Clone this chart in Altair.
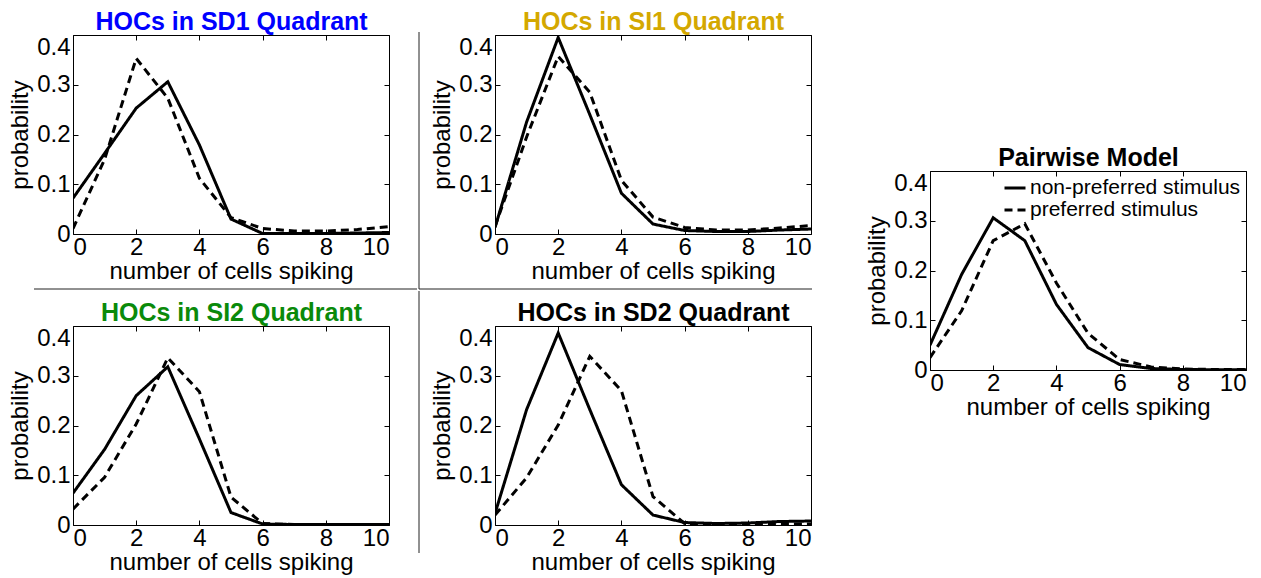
import altair as alt
import pandas as pd

# ---------------- data ----------------
x_vals = [0, 1, 2, 3, 4, 5, 6, 7, 8, 9, 10]
x_ticks = [0, 2, 4, 6, 8, 10]
y_ticks = [0, 0.1, 0.2, 0.3, 0.4]
series_names = ["non-preferred stimulus", "preferred stimulus"]

sd1_nonpref = [0.072, 0.162, 0.253, 0.306, 0.179, 0.030, 0.001, 0.001, 0.001, 0.002, 0.003]
sd1_pref = [0.011, 0.150, 0.353, 0.273, 0.112, 0.033, 0.011, 0.006, 0.006, 0.009, 0.015]

si1_nonpref = [0.013, 0.225, 0.395, 0.240, 0.082, 0.020, 0.007, 0.005, 0.005, 0.008, 0.010]
si1_pref = [0.015, 0.195, 0.357, 0.285, 0.108, 0.034, 0.013, 0.008, 0.008, 0.012, 0.017]

si2_nonpref = [0.064, 0.152, 0.260, 0.318, 0.173, 0.025, 0.002, 0.001, 0.001, 0.001, 0.001]
si2_pref = [0.032, 0.096, 0.203, 0.336, 0.268, 0.056, 0.003, 0.001, 0.001, 0.001, 0.001]

sd2_nonpref = [0.023, 0.232, 0.386, 0.232, 0.081, 0.020, 0.005, 0.003, 0.004, 0.007, 0.008]
sd2_pref = [0.020, 0.095, 0.201, 0.339, 0.270, 0.057, 0.003, 0.001, 0.001, 0.002, 0.002]

pw_nonpref = [0.050, 0.192, 0.306, 0.260, 0.132, 0.045, 0.011, 0.003, 0.001, 0.0005, 0.0005]
pw_pref = [0.025, 0.119, 0.260, 0.294, 0.175, 0.074, 0.021, 0.006, 0.002, 0.001, 0.001]

panel_titles = ["HOCs in SD1 Quadrant", "HOCs in SI1 Quadrant",
                "HOCs in SI2 Quadrant", "HOCs in SD2 Quadrant", "Pairwise Model"]
title_colors = ["#0000ff", "#d4a800", "#0a8a0a", "#000000", "#000000"]

x_title = "number of cells spiking"
y_title = "probability"

# ---------------- style ----------------
FONT = "Liberation Sans"
W, H = 316, 199
SEP = "#222222"


def rule(**enc):
    return alt.Chart(pd.DataFrame({"k": [0]})).mark_rule(color=SEP, strokeWidth=1).encode(**enc)


def panel(nonpref, pref, title, color, legend=False, extra=None):
    df = pd.DataFrame({
        "n": x_vals + x_vals,
        "p": nonpref + pref,
        "s": [series_names[0]] * len(x_vals) + [series_names[1]] * len(x_vals),
    })
    x_scale = alt.Scale(domain=[0, 10], nice=False, zero=False)
    dash_scale = alt.Scale(domain=series_names, range=[[1, 0], [8, 5]])
    if legend:
        leg = alt.Legend(orient="top-right", title=None, offset=5, padding=0,
                         labelFont=FONT, labelFontSize=21, labelColor="black",
                         symbolType="stroke", symbolStrokeWidth=3, symbolSize=441,
                         symbolStrokeColor="black", rowPadding=0, labelOffset=3,
                         labelLimit=400)
        dash = alt.StrokeDash("s:N", scale=dash_scale, legend=leg)
    else:
        dash = alt.StrokeDash("s:N", scale=dash_scale, legend=None)
    lines = alt.Chart(df).mark_line(color="black", strokeWidth=3, clip=True).encode(
        x=alt.X("n:Q", title=x_title, scale=x_scale,
                axis=alt.Axis(values=x_ticks, labelFlush=True, tickSize=0, labelPadding=1,
                              labelFont=FONT, labelFontSize=24, labelColor="black",
                              titleFont=FONT, titleFontSize=24, titleFontWeight="normal",
                              titleColor="black", titlePadding=0, domain=False,
                              grid=True, gridColor="black", gridWidth=1,
                              gridDash=[5, H - 10, 5, 0])),
        y=alt.Y("p:Q", title=y_title,
                scale=alt.Scale(domain=[0, 0.4], nice=False),
                axis=alt.Axis(values=y_ticks, tickSize=0, labelPadding=3,
                              labelExpr="datum.value == 0 ? '0' : format(datum.value, '.1f')",
                              labelBaseline={"condition": {"test": "datum.value >= 0.35", "value": "top"},
                                             "value": "middle"},
                              labelFont=FONT, labelFontSize=24, labelColor="black",
                              titleFont=FONT, titleFontSize=24, titleFontWeight="normal",
                              titleColor="black", titlePadding=4, domain=False,
                              grid=True, gridColor="black", gridWidth=1,
                              gridDash=[5, W - 10, 5, 0])),
        strokeDash=dash,
    )
    # panel title carried by a label-less top axis, so it stays fixed to the plot box
    head = alt.Chart(df).mark_point(size=0, opacity=0).encode(
        x=alt.X("n:Q", scale=x_scale,
                axis=alt.Axis(orient="top", title=title, labels=False, ticks=False, tickSize=0,
                              domain=False, grid=False, titleColor=color, titleFont=FONT,
                              titleFontSize=25, titleFontWeight="bold", titlePadding=6,
                              titleBaseline="alphabetic")),
        y=alt.value(0),
    )
    layers = [lines, head] + (extra or [])
    return alt.layer(*layers).resolve_axis(x="independent").properties(width=W, height=H)


# separator lines (decoration) split across the panels they cross
p1 = panel(sd1_nonpref, sd1_pref, panel_titles[0], title_colors[0],
           extra=[rule(x=alt.value(-39), x2=alt.value(344), y=alt.value(254))])
p2 = panel(si1_nonpref, si1_pref, panel_titles[1], title_colors[1],
           extra=[rule(x=alt.value(-76), y=alt.value(-3), y2=alt.value(254)),
                  rule(x=alt.value(-76), x2=alt.value(317), y=alt.value(254))])
p3 = panel(si2_nonpref, si2_pref, panel_titles[2], title_colors[2])
p4 = panel(sd2_nonpref, sd2_pref, panel_titles[3], title_colors[3],
           extra=[rule(x=alt.value(-76), y=alt.value(-35), y2=alt.value(227))])
p5 = panel(pw_nonpref, pw_pref, panel_titles[4], title_colors[4], legend=True)

spacer = alt.Chart(pd.DataFrame({"k": [0]})).mark_point(size=0, opacity=0).encode(
    x=alt.value(10), y=alt.value(10)
).properties(width=W, height=68, view=alt.ViewBackground(stroke="transparent"))


def ind(c):
    return c.resolve_scale(strokeDash="independent").resolve_legend(strokeDash="independent")


row1 = ind(alt.hconcat(p1, p2, spacing=0))
row2 = ind(alt.hconcat(p3, p4, spacing=28))
left = ind(alt.vconcat(row1, row2, spacing=0))
right = ind(alt.vconcat(spacer, p5, spacing=40))

chart = ind(alt.hconcat(left, right, spacing=52)).properties(
    padding=0, background="white"
).configure_view(stroke="black", strokeWidth=1)

chart.save("out.html", embed_options={"renderer": "svg", "actions": False})
